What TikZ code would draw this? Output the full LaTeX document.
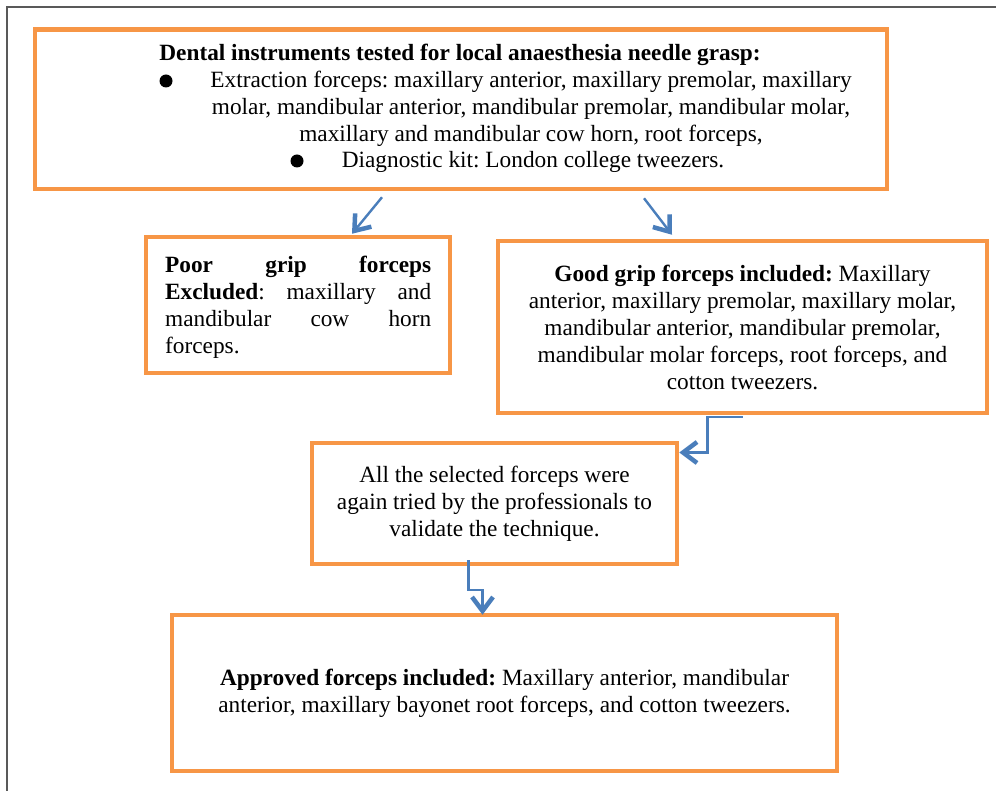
\documentclass[tikz,border=0pt]{standalone}
\usepackage{fontspec}
\setmainfont{Liberation Serif}
\usetikzlibrary{arrows.meta}
\definecolor{boxorange}{HTML}{F79646}
\definecolor{arrowblue}{HTML}{4A7EBB}
\frenchspacing
\newcommand{\spreadline}[1]{\makebox[266pt][s]{#1}}
\tikzset{
	box/.style={draw=boxorange, line width=4.5pt, inner sep=0pt, align=center, font=\fontsize{23.3}{27}\selectfont},
	txt/.style={anchor=base, inner sep=0pt, font=\fontsize{23.3}{27}\selectfont},
	dot/.style={circle, fill=black, minimum size=13pt, inner sep=0pt},
	arr/.style={draw=arrowblue, line width=2.4pt, -{Straight Barb[length=14pt,width=21pt,line width=4.5pt]}}
}
\begin{document}
\begin{tikzpicture}[x=1pt, y=-1pt]
	\useasboundingbox (0,0) rectangle (996,791);
	\draw[line width=2pt, black!65] (7,791) -- (7,7) -- (996,7);

	% boxes
	\node[box, minimum width=852pt, minimum height=159.5pt] (instr) at (461,109.25) {};
	\node[box, minimum width=304pt, minimum height=136pt] (poor) at (298,305) {};
	\node[box, minimum width=489pt, minimum height=172pt] (good) at (742.5,327) {\textbf{Good grip forceps included:} Maxillary\\anterior, maxillary premolar, maxillary molar,\\mandibular anterior, mandibular premolar,\\mandibular molar forceps, root forceps, and\\cotton tweezers.};
	\node[box, minimum width=365pt, minimum height=121pt] (valid) at (494.5,503.5) {All the selected forceps were\\again tried by the professionals to\\validate the technique.};
	\node[box, minimum width=665pt, minimum height=156pt] (approved) at (504.5,693) {\textbf{Approved forceps included:} Maxillary anterior, mandibular\\anterior, maxillary bayonet root forceps, and cotton tweezers.};

	% text of the first box
	\node[txt] (title) at (460,61) {\textbf{Dental instruments tested for local anaesthesia needle grasp:}};
	\foreach \n/\x/\y/\txt in {1/531/88/{Extraction forceps: maxillary anterior, maxillary premolar, maxillary}, 2/531/115/{molar, mandibular anterior, mandibular premolar, mandibular molar,}, 3/531/142/{maxillary and mandibular cow horn, root forceps,}, 4/533/168/{Diagnostic kit: London college tweezers.}}
		\node[txt] (item\n) at (\x,\y) {\txt};
	\node[dot] (bullet1) at (166,81) {};
	\node[dot] (bullet2) at (297,161) {};

	% text of the excluded box
	\foreach \n/\y/\txt in {1/273/{\spreadline{\textbf{Poor grip forceps}}}, 2/300/{\spreadline{\textbf{Excluded}: maxillary and}}, 3/327/{\spreadline{mandibular cow horn}}, 4/354/{forceps.}}
		\node[txt, anchor=base west] (poor\n) at (165,\y) {\txt};

	% arrows
	\draw[arr] ([xshift=-79, yshift=-6]instr.south) -- ([xshift=54, yshift=1]poor.north);
	\draw[arr] ([xshift=183, yshift=-7]instr.south) -- ([xshift=-70.5, yshift=4]good.north);
	\draw[arr] ([yshift=-2]good.south) -- ++(-35,0) |- ([yshift=51]valid.east);
	\draw[arr] ([xshift=-26, yshift=6]valid.south) -- ++(0,30) -| ([xshift=-22, yshift=-2]approved.north);
\end{tikzpicture}
\end{document}
